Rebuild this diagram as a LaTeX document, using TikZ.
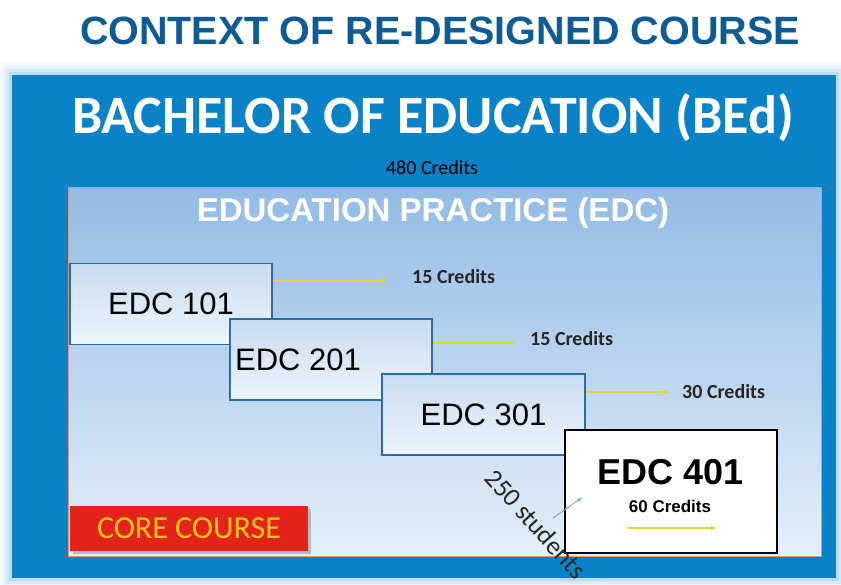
\documentclass[tikz,border=0pt]{standalone}
\usepackage{fontspec}
\setmainfont{Liberation Sans}
\newfontfamily\calibri{Carlito}
\usetikzlibrary{arrows.meta,shadows}
\definecolor{titleblue}{HTML}{0C5B95}
\definecolor{outerblue}{HTML}{0A82C8}
\definecolor{glowblue}{HTML}{5AA8E0}
\definecolor{innertop}{HTML}{93BBE5}
\definecolor{innerbot}{HTML}{E4EFF9}
\definecolor{innerline}{HTML}{D99A80}
\definecolor{boxline}{HTML}{2A6DA5}
\definecolor{boxtop}{HTML}{C8DCF1}
\definecolor{boxbot}{HTML}{EDF4FB}
\definecolor{credyellow}{HTML}{DCD83A}
\definecolor{corered}{HTML}{E3241B}
\definecolor{coretext}{HTML}{F7C21B}
\definecolor{studblue}{HTML}{7FB0DD}
\begin{document}
\begin{tikzpicture}[x=1pt,y=-1pt,-]
    \tikzstyle{course}=[draw=boxline,line width=1.3pt,top color=boxtop,bottom color=boxbot,minimum height=81pt,inner sep=0pt]
    \tikzstyle{credit}=[text=black!85,font=\calibri\bfseries\fontsize{20}{20}\selectfont,inner sep=0pt]
    \tikzstyle{yarrow}=[credyellow,line width=1.1pt,-{Latex[length=6pt,width=4.5pt]}]
    \useasboundingbox (0,0) rectangle (841,584);
    \fill[white] (0,0) rectangle (841,584);

    % glow and frames
    \foreach \g/\o in {12/0.06, 9/0.08, 6/0.12, 3/0.2}
        \fill[glowblue,opacity=\o] (12-\g,75-\g) rectangle (836+\g,578+\g);
    \fill[outerblue] (12,75) rectangle (836,578);
    \draw[innerline,line width=1pt,top color=innertop,bottom color=innerbot] (68,187) rectangle (821,556);

    \node[text=titleblue,font=\bfseries\fontsize{39.5}{40}\selectfont] (title) at (440,31) {CONTEXT OF RE-DESIGNED COURSE};
    \node[text=white,font=\calibri\bfseries\fontsize{54}{54}\selectfont] (bed) at (433,118) {BACHELOR OF EDUCATION (BEd)};
    \node[font=\calibri\fontsize{20}{20}\selectfont] (total) at (432,168) {480 Credits};
    \node[text=white,font=\bfseries\fontsize{33}{33}\selectfont] (edc) at (433,213) {EDUCATION PRACTICE (EDC)};

    \foreach \num/\x/\y/\w/\dx in {101/171/304/202/0, 201/331/359.5/202/-33, 301/483.5/414.5/203/0}
    {
        \node[course,minimum width=\w pt] (E-\num) at (\x,\y) {};
        \node[font=\fontsize{31}{31}\selectfont] (L-\num) at ([xshift=\dx pt]E-\num.center) {EDC \num};
    }

    \foreach \num/\cr/\ya/\yc/\xb/\xc in {101/15/281/277/388/412, 201/15/343/339/517/530, 301/30/392/392/670/682}
    {
        \node[credit,anchor=west] (C-\num) at (\xc,\yc) {\cr\ Credits};
        \coordinate (A-\num) at (\xb,\ya);
        \draw[yarrow] (E-\num.east |- A-\num) -- (A-\num);
    }

    \node[draw=black,fill=white,line width=2pt,minimum width=212pt,minimum height=123pt] (E-401) at (671,491.5) {};
    \node[font=\bfseries\fontsize{36}{36}\selectfont] (L-401) at (671,472.5) {EDC 401};
    \node[font=\bfseries\fontsize{17}{17}\selectfont] (C-401) at (670,506) {60 Credits};
    \coordinate (Y-a) at (627,528);
    \coordinate (Y-b) at (717,528);
    \draw[yarrow] (Y-a) -- (Y-b);

    % students
    \coordinate (S-a) at (553,518);
    \coordinate (S-b) at (583,497);
    \draw[studblue,line width=1pt,-{Latex[length=6pt,width=4pt]}] (S-a) -- (S-b);
    \node[text=black!85,font=\calibri\fontsize{26}{26}\selectfont,rotate=-48] (stud) at (536,524) {250 students};

    \node[fill=corered,minimum width=238pt,minimum height=45pt,text=coretext,font=\calibri\fontsize{32}{32}\selectfont,
          drop shadow={shadow xshift=3pt,shadow yshift=-3pt,opacity=0.45}] (core) at (189,528) {CORE COURSE};
\end{tikzpicture}
\end{document}
